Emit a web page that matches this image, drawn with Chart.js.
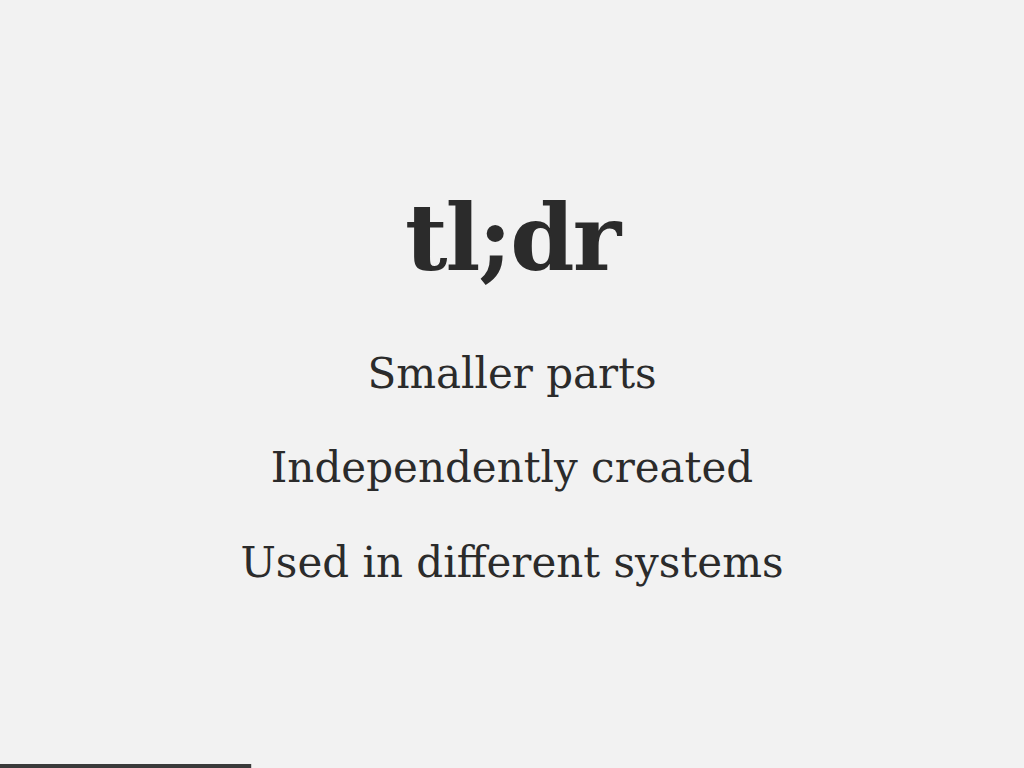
<!DOCTYPE html>
<html>
<head>
<meta charset="utf-8">
<script src="https://cdn.jsdelivr.net/npm/chart.js@4/dist/chart.umd.min.js"></script>
<style>
  html, body { margin: 0; padding: 0; width: 1024px; height: 768px; background: #f2f2f2; overflow: hidden; }
  .slide { position: absolute; left: 0; top: 0; width: 1024px; height: 768px; text-align: center; color: #2b2b2b; font-family: "DejaVu Serif", "Liberation Serif", serif; }
  h1 { position: absolute; left: 0; right: 0; top: 178px; margin: 0; font-size: 92px; font-weight: bold; line-height: 120px; letter-spacing: -2px; }
  .line { position: absolute; left: 0; right: 0; margin: 0; font-size: 42px; line-height: 60px; }
  #progressWrap { position: absolute; left: 0; bottom: 0; width: 1024px; height: 4px; }
</style>
</head>
<body>
<div class="slide">
  <h1>tl;dr</h1>
  <p class="line" style="top:344px">Smaller parts</p>
  <p class="line" style="top:438px">Independently created</p>
  <p class="line" style="top:533px">Used in different systems</p>
</div>
<div id="progressWrap"><canvas id="progress"></canvas></div>
<script>
// slide progress bar
const slideLabels = ["progress"];
const slideProgress = [0.245];

new Chart(document.getElementById('progress'), {
    type: 'bar',
    data: {
        labels: slideLabels,
        datasets: [{
            data: slideProgress,
            backgroundColor: '#3a3a3a',
            barPercentage: 1,
            categoryPercentage: 1
        }]
    },
    options: {
        indexAxis: 'y',
        responsive: true,
        maintainAspectRatio: false,
        animation: false,
        layout: { padding: 0 },
        plugins: { legend: { display: false }, tooltip: { enabled: false } },
        scales: {
            x: { display: false, min: 0, max: 1 },
            y: { display: false }
        }
    }
});
</script>
</body>
</html>
